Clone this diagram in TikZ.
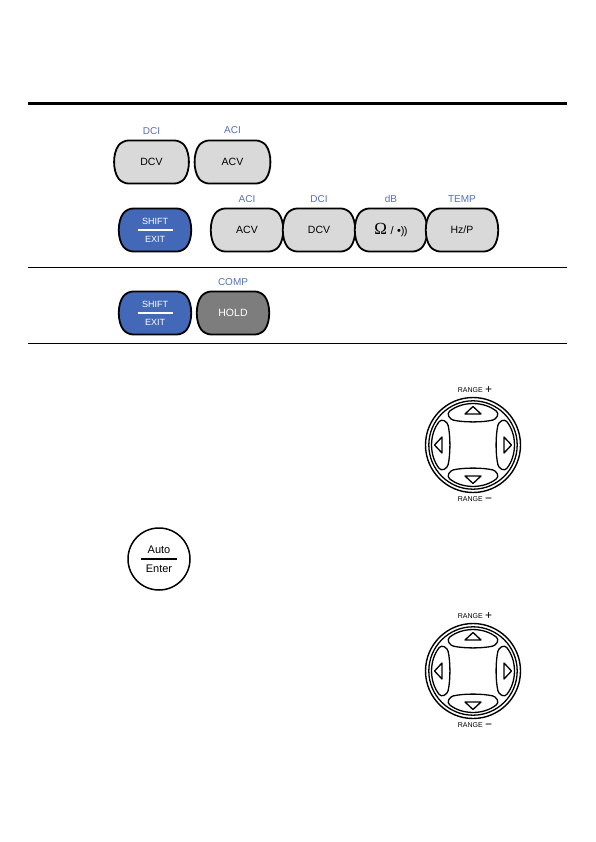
\documentclass[tikz,border=0pt]{standalone}
\usepackage{fontspec}
\setmainfont{Liberation Sans}
\newfontfamily\ohmfont{Liberation Serif}
\usepackage{tikz}
\usetikzlibrary{shapes.misc, positioning}
\definecolor{keygray}{RGB}{217,217,217}
\definecolor{keyblue}{RGB}{67,104,183}
\definecolor{keydark}{RGB}{125,125,125}
\definecolor{fnblue}{RGB}{84,112,182}

\tikzset{
  navpad/.pic={
    \draw[padline] (0,0) circle[radius=44.2];
    \foreach \a in {0,90,180,270}{
      \begin{scope}[rotate=\a]
        \draw[padline, rounded corners=3pt] (-39:41) arc[start angle=-39, end angle=39, radius=41]
          -- (25.5,22.5) .. controls (22.5,9) and (22.5,-9) .. (25.5,-22.5) -- cycle;
        \draw[padline, line join=round] (38.5,0) -- (31,-8) -- (31,8) -- cycle;
      \end{scope}
    }
  }
}

\begin{document}
\begin{tikzpicture}[x=1pt, y=-1pt,
  key/.style = {
    shape=rounded rectangle, rounded rectangle arc length=75, rounded corners=6pt,
    draw=black, fill=#1, line width=1.8pt,
    minimum width=68pt, minimum height=43pt, inner sep=0pt,
    font=\fontsize{10.5}{12}\selectfont
  },
  shiftkey/.style = {key=keyblue, text=white, align=center, font=\fontsize{9}{10}\selectfont},
  fnlbl/.style = {font=\fontsize{10}{12}\selectfont, text=fnblue, inner sep=1pt},
  sepline/.style = {line width=#1},
  padline/.style = {line width=1.3pt},
  dialring/.style = {circle, draw, line width=1.4pt, minimum size=95pt, inner sep=0pt},
  rangelbl/.style = {font=\fontsize{7}{8}\selectfont, inner sep=0pt, xshift=2pt}
]
\useasboundingbox (0,0) rectangle (596,842);

% ---- separator rules ----
\draw[sepline=3pt]   (28,104) -- (567,104);
\draw[sepline=0.8pt] (28,267) -- (567,267);
\draw[sepline=0.8pt] (28,343) -- (567,343);

% ---- ROW 1 ----
\node[key=keygray, minimum width=73pt] (dcvA) at (151.5,162) {DCV};
\node[key=keygray, minimum width=74pt] (acvA) at (232.5,162) {ACV};
\node[fnlbl, above=4pt of dcvA] (dciA) {DCI};
\node[fnlbl, above=5pt of acvA] (aciA) {ACI};

% ---- ROW 2 ----
\node[shiftkey] (shiftB) at (155,230) {SHIFT\\[8pt]EXIT};
\draw[white, line width=1.2pt] ([xshift=-17.5pt]shiftB.center) -- ([xshift=17.5pt]shiftB.center);
\node[key=keygray] (acvB) at (247,230) {ACV};
\node[key=keygray] (dcvB) at (319,230) {DCV};
\node[key=keygray] (ohm)  at (391,230)
  {{\ohmfont\fontsize{17}{17}\selectfont Ω}\,\,{\fontsize{11}{12}\selectfont/\,\,•\kern-.2pt)\kern-.6pt)}};
\node[key=keygray] (hz)   at (462,230) {Hz/P};
\node[fnlbl, above=4pt of acvB] (aciB)  {ACI};
\node[fnlbl, above=4pt of dcvB] (dciB)  {DCI};
\node[fnlbl, above=4pt of ohm]  (db)    {dB};
\node[fnlbl, above=4pt of hz]   (temp)  {TEMP};

% ---- ROW 3 ----
\node[shiftkey, minimum width=67pt] (shiftC) at (155,313) {SHIFT\\[8pt]EXIT};
\draw[white, line width=1.2pt] ([xshift=-17.5pt]shiftC.center) -- ([xshift=17.5pt]shiftC.center);
\node[key=keydark, text=white, minimum width=67pt] (hold) at (233,313) {HOLD};
\node[fnlbl, above=4pt of hold] (comp) {COMP};

% ---- RANGE dial 1 ----
\node[dialring] (dialA) at (473,445) {};
\pic at (dialA.center) {navpad};
\node[rangelbl, above=3pt of dialA] (rngupA) {RANGE\,\,\raisebox{-1.3pt}{\fontsize{12}{12}\selectfont +}};
\node[rangelbl, below=3pt of dialA] (rngdnA) {RANGE\,\,\raisebox{-1.3pt}{\fontsize{12}{12}\selectfont −}};

% ---- Auto / Enter ----
\node[circle, draw, line width=1.5pt, minimum size=62pt, inner sep=0pt, align=center,
  font=\fontsize{11}{13}\selectfont] (auto) at (159,559) {Auto\\[6pt]Enter};
\draw[line width=1.3pt] ([xshift=-18pt]auto.center) -- ([xshift=18pt]auto.center);

% ---- RANGE dial 2 ----
\node[dialring] (dialB) at (473,671) {};
\pic at (dialB.center) {navpad};
\node[rangelbl, above=3pt of dialB] (rngupB) {RANGE\,\,\raisebox{-1.3pt}{\fontsize{12}{12}\selectfont +}};
\node[rangelbl, below=3pt of dialB] (rngdnB) {RANGE\,\,\raisebox{-1.3pt}{\fontsize{12}{12}\selectfont −}};

\end{tikzpicture}
\end{document}
